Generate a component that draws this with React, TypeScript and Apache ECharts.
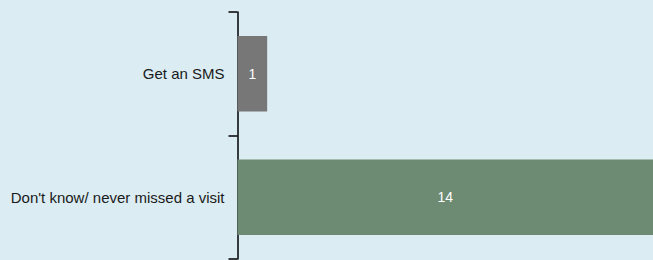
import React, { useEffect, useRef } from "react";
import * as echarts from "echarts";

const categories = ["Get an SMS", "Don't know/ never missed a visit"];
const values = [1, 14];
const barColors = ["#777777", "#6c8b72"];

export default function App() {
  const ref = useRef<HTMLDivElement>(null);
  useEffect(() => {
    if (!ref.current) return;
    const chart = echarts.init(ref.current, undefined, { renderer: "svg" });
    chart.setOption({
      animation: false,
      backgroundColor: "#dbecf3",
      grid: { left: 237.5, right: -6, top: 12, bottom: 1, containLabel: false },
      xAxis: {
        type: "value",
        min: 0,
        max: 14,
        show: false,
      },
      yAxis: {
        type: "category",
        data: categories,
        inverse: true,
        axisLine: { show: true, lineStyle: { color: "#000000", width: 1.5 } },
        axisTick: { show: true, length: 9, lineStyle: { color: "#000000", width: 1.5 } },
        axisLabel: {
          color: "#1a1a1a",
          fontSize: 15,
          fontFamily: "Liberation Sans, Arial, sans-serif",
          margin: 13,
        },
        splitLine: { show: false },
      },
      series: [
        {
          type: "bar",
          barWidth: "61%",
          data: values.map((v, i) => ({ value: v, itemStyle: { color: barColors[i] } })),
          label: {
            show: true,
            position: "inside",
            color: "#ffffff",
            fontSize: 14,
            fontFamily: "Liberation Sans, Arial, sans-serif",
          },
        },
      ],
    });
    return () => chart.dispose();
  }, []);
  return <div ref={ref} style={{ width: 653, height: 260, position: "absolute", left: 0, top: 0 }} />;
}
